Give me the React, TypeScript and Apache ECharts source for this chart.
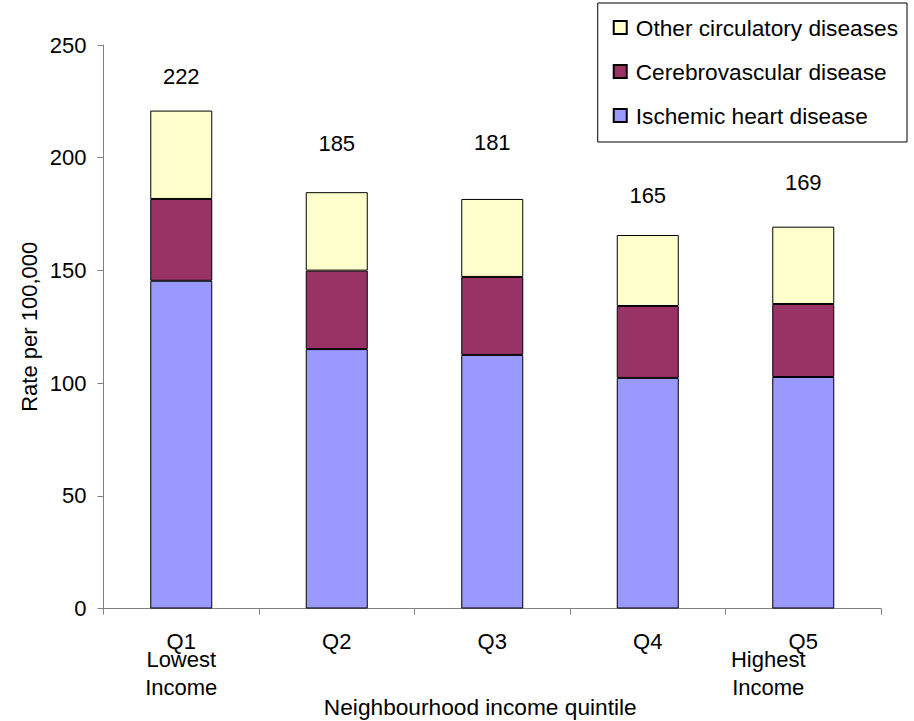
import React, { useEffect, useRef } from "react";
import * as echarts from "echarts";

const categories = ["Q1", "Q2", "Q3", "Q4", "Q5"];
const ischemic = [145.4, 115.1, 112.5, 102.3, 102.7];
const cerebro = [36.3, 34.8, 34.6, 31.9, 32.4];
const other = [39.2, 34.8, 34.6, 31.5, 34.3];
const totals = [222, 185, 181, 165, 169];
const totalLabelGap = [23, 38, 45, 29, 33];
const yTicks = { min: 0, max: 250, interval: 50 };

const FONT = "'Liberation Sans', Arial, sans-serif";

export default function App() {
  const ref = useRef<HTMLDivElement>(null);
  useEffect(() => {
    if (!ref.current) return;
    const chart = echarts.init(ref.current, undefined, { renderer: "svg" });
    const border = { borderColor: "#000", borderWidth: 1 };
    chart.setOption({
      animation: false,
      backgroundColor: "#fff",
      textStyle: { fontFamily: FONT, color: "#000" },
      grid: { left: 103.5, right: 33, top: 45, bottom: 112.5, containLabel: false, outerBoundsMode: "none" },
      legend: {
        orient: "vertical",
        right: 7,
        top: 3,
        data: ["Other circulatory diseases", "Cerebrovascular disease", "Ischemic heart disease"],
        icon: "rect",
        itemWidth: 13,
        itemHeight: 13,
        itemGap: 21,
        padding: [13, 9, 15, 15],
        backgroundColor: "#fff",
        borderColor: "#000",
        borderWidth: 1,
        borderRadius: 0,
        textStyle: { fontFamily: FONT, fontSize: 22.7, color: "#000", lineHeight: 23, padding: [0, 0, 0, 4] },
      },
      xAxis: {
        type: "category",
        data: categories,
        boundaryGap: true,
        name: "Neighbourhood income quintile",
        nameLocation: "middle",
        nameGap: 87,
        nameMoveOverlap: false,
        nameTextStyle: { fontFamily: FONT, fontSize: 22.7, color: "#000", padding: [0, 24, 0, 0] },
        axisLine: { lineStyle: { color: "#808080", width: 1 } },
        axisTick: { show: true, length: 6, lineStyle: { color: "#808080" } },
        axisLabel: {
          margin: 24,
          interval: 0,
          formatter: (v: string, i: number) => {
            if (i === 0) return "{q|" + v + "}\n{l|Lowest}\n{i|Income}";
            if (i === categories.length - 1) return "{q|" + v + "}\n{hl|Highest}\n{hi|Income}";
            return "{q|" + v + "}";
          },
          rich: {
            q: { fontFamily: FONT, fontSize: 22, color: "#000", lineHeight: 18 },
            l: { fontFamily: FONT, fontSize: 22, color: "#000", lineHeight: 18 },
            i: { fontFamily: FONT, fontSize: 22, color: "#000", lineHeight: 38 },
            hl: { fontFamily: FONT, fontSize: 22, color: "#000", lineHeight: 18, padding: [0, 70, 0, 0] },
            hi: { fontFamily: FONT, fontSize: 22, color: "#000", lineHeight: 38, padding: [0, 70, 0, 0] },
          },
        },
        splitLine: { show: false },
      },
      yAxis: {
        type: "value",
        min: yTicks.min,
        max: yTicks.max,
        interval: yTicks.interval,
        name: "Rate per 100,000",
        nameLocation: "middle",
        nameGap: 63.5,
        nameMoveOverlap: false,
        nameTextStyle: { fontFamily: FONT, fontSize: 22, color: "#000" },
        axisLine: { show: true, lineStyle: { color: "#808080", width: 1 } },
        axisTick: { show: true, length: 6, lineStyle: { color: "#808080" } },
        axisLabel: { fontFamily: FONT, fontSize: 22, color: "#000", margin: 17 },
        splitLine: { show: false },
      },
      series: [
        {
          name: "Ischemic heart disease",
          type: "bar",
          stack: "total",
          barWidth: 62,
          data: ischemic,
          itemStyle: { color: "#9999FF", ...border },
        },
        {
          name: "Cerebrovascular disease",
          type: "bar",
          stack: "total",
          barWidth: 62,
          data: cerebro,
          itemStyle: { color: "#993366", ...border },
        },
        {
          name: "Other circulatory diseases",
          type: "bar",
          stack: "total",
          barWidth: 62,
          data: other.map((v, i) => ({ value: v, label: { distance: totalLabelGap[i] } })),
          itemStyle: { color: "#FFFFCC", ...border },
          label: {
            show: true,
            position: "top",
            fontFamily: FONT,
            fontSize: 22,
            lineHeight: 22,
            color: "#000",
            formatter: (p: any) => String(totals[p.dataIndex]),
          },
        },
      ],
    });
    return () => chart.dispose();
  }, []);
  return <div ref={ref} style={{ position: "fixed", left: 0, top: 0, width: 914, height: 721 }} />;
}
